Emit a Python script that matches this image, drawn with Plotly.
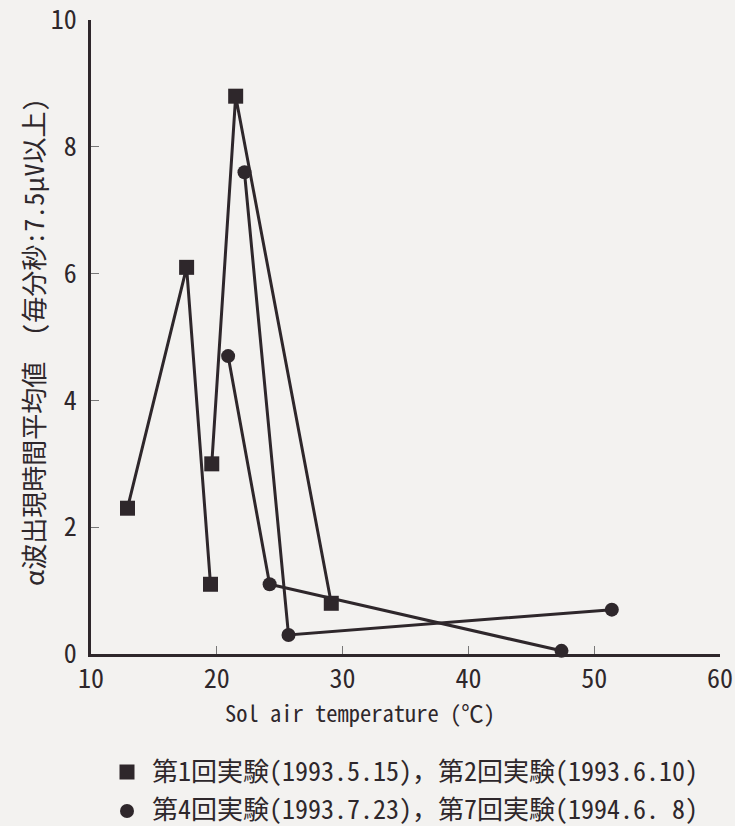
import plotly.graph_objects as go

# Sol air temperature (°C) and mean alpha-wave time, one list per experiment
exp1_temp = [12.9, 17.6, 19.5]
exp1_alpha = [2.3, 6.1, 1.1]
exp2_temp = [19.6, 21.5, 29.1]
exp2_alpha = [3.0, 8.8, 0.8]
exp4_temp = [20.9, 24.2, 47.4]
exp4_alpha = [4.7, 1.1, 0.05]
exp7_temp = [22.2, 25.7, 51.4]
exp7_alpha = [7.6, 0.3, 0.7]

x_ticks = [10, 20, 30, 40, 50, 60]
y_ticks = [0, 2, 4, 6, 8, 10]

legend_lines = [
    "第1回実験(1993.5.15)，第2回実験(1993.6.10)",
    "第4回実験(1993.7.23)，第7回実験(1994.6. 8)",
]

INK = "#2e272b"
BG = "#f3f2f0"
MONO = "Noto Sans Mono CJK JP, DejaVu Sans Mono, Noto Sans CJK JP"

# plot area in pixels
L, R, T, B = 91, 720, 20, 654
W, H = 735, 826


def px_x(p):
    return (p - L) / (R - L)


def px_y(p):
    return (B - p) / (B - T)


fig = go.Figure()

series = [
    (exp1_temp, exp1_alpha, "square", 15),
    (exp2_temp, exp2_alpha, "square", 15),
    (exp4_temp, exp4_alpha, "circle", 14),
    (exp7_temp, exp7_alpha, "circle", 14),
]
for xs, ys, sym, size in series:
    fig.add_trace(go.Scatter(
        x=xs, y=ys, mode="lines+markers",
        line=dict(color=INK, width=3),
        marker=dict(symbol=sym, size=size, color=INK, line=dict(width=0)),
        cliponaxis=False, showlegend=False,
    ))

fig.update_xaxes(
    range=[10, 60], tickvals=x_ticks, ticktext=[str(v) for v in x_ticks],
    showline=True, linewidth=3, linecolor=INK, showgrid=False, zeroline=False,
    ticks="inside", ticklen=8, tickwidth=1, tickcolor="#777",
    automargin=False,
    tickfont=dict(family=MONO, size=26, color=INK),
)
fig.update_yaxes(
    range=[0, 10.002], tickvals=y_ticks, ticktext=[str(v) for v in y_ticks],
    showline=True, linewidth=3, linecolor=INK, showgrid=False, zeroline=False,
    ticks="inside", ticklen=8, tickwidth=1, tickcolor="#777",
    ticklabelstandoff=6, ticklabeloverflow="allow", automargin=False,
    tickfont=dict(family=MONO, size=26, color=INK),
)

annotations = [
    dict(text="α波出現時間平均値　(毎分秒:7.5μV以上)", textangle=-90,
         x=px_x(33), y=px_y(342), xref="paper", yref="paper",
         xanchor="center", yanchor="middle", showarrow=False,
         font=dict(family=MONO, size=26, color=INK)),
    dict(text="Sol air temperature (℃)", x=px_x(360), y=px_y(712),
         xref="paper", yref="paper", xanchor="center", yanchor="middle",
         showarrow=False, font=dict(family=MONO, size=22.5, color=INK)),
]
legend_y = [769, 807]
for line, yy in zip(legend_lines, legend_y):
    annotations.append(dict(
        text=line, x=px_x(150), y=px_y(yy), xref="paper", yref="paper",
        xanchor="left", yanchor="middle", showarrow=False,
        font=dict(family=MONO, size=26, color=INK)))

# legend keys: a square for experiments 1/2, a dot for experiments 4/7
shapes = [
    dict(type="rect", xref="paper", yref="paper",
         x0=px_x(119.5), x1=px_x(134.5), y0=px_y(779.5), y1=px_y(764.5),
         fillcolor=INK, line=dict(width=0)),
    dict(type="circle", xref="paper", yref="paper",
         x0=px_x(120), x1=px_x(134), y0=px_y(818), y1=px_y(804),
         fillcolor=INK, line=dict(width=0)),
]

fig.update_layout(
    width=W, height=H,
    margin=dict(l=L, r=W - R, t=T, b=H - B),
    paper_bgcolor=BG, plot_bgcolor=BG,
    annotations=annotations, shapes=shapes,
)

fig.write_html("out.html")
